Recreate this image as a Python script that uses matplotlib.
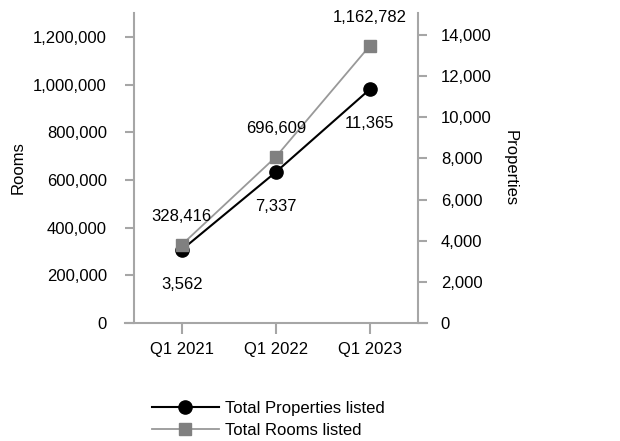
import matplotlib
matplotlib.use("Agg")
import matplotlib.pyplot as plt
from matplotlib.ticker import FuncFormatter

plt.rcParams['font.family'] = ['Liberation Sans', 'DejaVu Sans']

quarters = ["Q1 2021", "Q1 2022", "Q1 2023"]
properties = [3562, 7337, 11365]
rooms = [328416, 696609, 1162782]

GREY_AXIS = "#a6a6a6"
GREY_LINE = "#999999"
GREY_MARK = "#808080"
FS = 12

fig = plt.figure(figsize=(6.2, 4.41), dpi=100)
ax = fig.add_axes([0.216, 0.2676, 0.458, 0.703])
ax2 = ax.twinx()

x = list(range(len(quarters)))

# properties on the right axis
ax2.plot(x, properties, color="black", lw=1.5, marker="o", ms=9.5, label="Total Properties listed")
# rooms on the left axis (drawn on top)
ax.plot(x, rooms, color=GREY_LINE, lw=1.3, marker="s", ms=9, mfc=GREY_MARK, mec=GREY_MARK,
        label="Total Rooms listed")
ax.set_zorder(ax2.get_zorder() + 1)
ax.patch.set_visible(False)

ax.set_xlim(-0.51, 2.51)
ax.set_ylim(0, 1300000)
ax2.set_ylim(0, 15070)
ax.set_yticks(range(0, 1200001, 200000))
ax2.set_yticks(range(0, 14001, 2000))
ax.set_xticks(x)
ax.set_xticklabels(quarters)

fmt = FuncFormatter(lambda v, p: f"{int(v):,}")
ax.yaxis.set_major_formatter(fmt)
ax2.yaxis.set_major_formatter(fmt)

for a in (ax, ax2):
    a.spines['top'].set_visible(False)
    for s in ('left', 'right', 'bottom'):
        a.spines[s].set_color(GREY_AXIS)
        a.spines[s].set_linewidth(1.5)
    a.tick_params(colors=GREY_AXIS, labelcolor="black", labelsize=FS, width=1.5, length=6.5)
ax.spines['right'].set_visible(False)
ax2.spines['left'].set_visible(False)
ax2.spines['bottom'].set_visible(False)
ax.spines['bottom'].set_bounds(-0.61, 2.61)
ax.tick_params(axis='x', length=8, pad=6)
ax.tick_params(axis='y', pad=13)
ax2.tick_params(axis='y', pad=10)

ax.set_ylabel("Rooms", fontsize=FS, labelpad=5)
ax2.set_ylabel("Properties", fontsize=FS, rotation=-90, labelpad=19)

for xi, v in zip(x, rooms):
    ax.annotate(f"{v:,}", (xi, v), xytext=(0, 20.5), textcoords="offset points",
                ha="center", va="center", fontsize=FS)
for xi, v in zip(x, properties):
    ax2.annotate(f"{v:,}", (xi, v), xytext=(0, -25), textcoords="offset points",
                 ha="center", va="center", fontsize=FS)

h1, l1 = ax2.get_legend_handles_labels()
h2, l2 = ax.get_legend_handles_labels()
fig.legend(h1 + h2, l1 + l2, loc="upper left", bbox_to_anchor=(0.245, 0.09),
           frameon=False, fontsize=FS, handlelength=4.0, labelspacing=0.4,
           handletextpad=0.4, borderaxespad=0, borderpad=0)

fig.savefig("out.png", dpi=100)
